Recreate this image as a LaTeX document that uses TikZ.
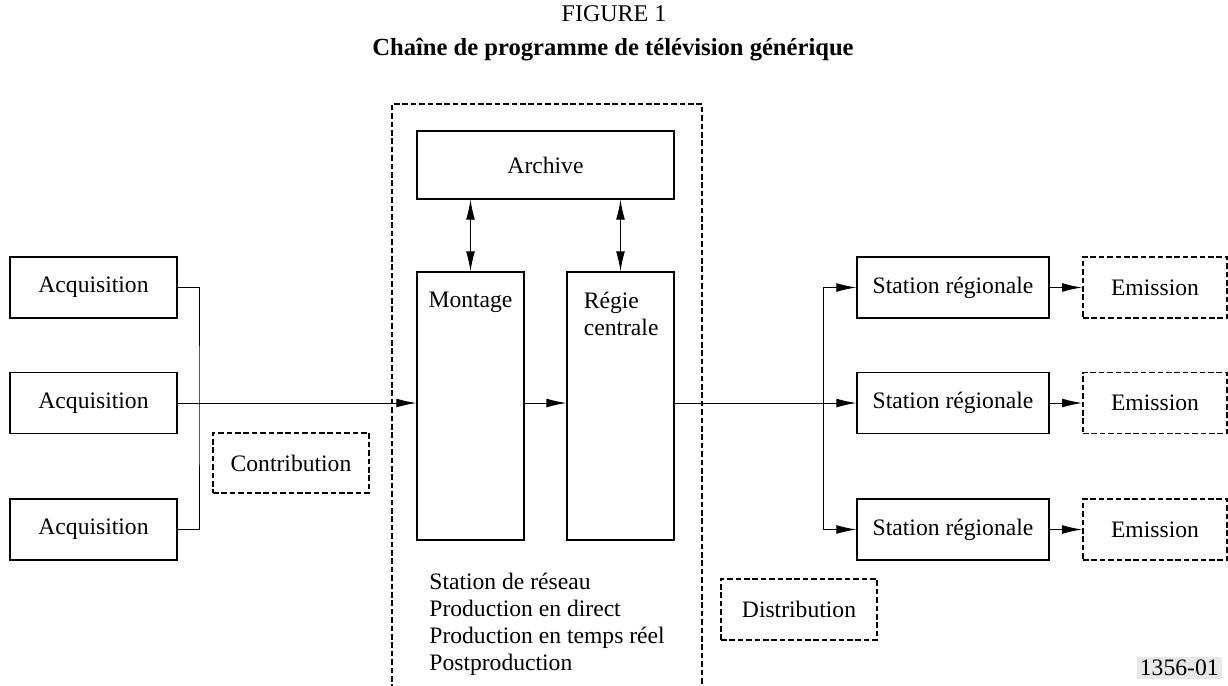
\documentclass[tikz,border=0pt]{standalone}
\usepackage{fontspec}
\setmainfont{Liberation Serif}
\usepackage{tikz}
\usetikzlibrary{arrows.meta,positioning,calc}
\tikzset{
  box/.style={draw=black,line width=0.6pt,rectangle,inner sep=0pt,
    font=\fontsize{11.8}{14}\selectfont,align=center,minimum height=30.5pt},
  dbox/.style={box,dashed,dash pattern=on 2.8pt off 1.4pt,line width=0.85pt},
  tall/.style={box,minimum width=53.5pt,minimum height=134pt},
  flow/.style={-{Latex[length=10pt,width=4.4pt]},line width=0.5pt},
  dflow/.style={{Latex[length=10pt,width=4.4pt]}-{Latex[length=10pt,width=4.4pt]},line width=0.5pt},
  wire/.style={line width=0.5pt},
  txt/.style={inner sep=0pt,font=\fontsize{11.8}{13.5}\selectfont,align=left},
}

\begin{document}
\begin{tikzpicture}[x=0.5pt,y=-0.5pt]
  \useasboundingbox (0,0) rectangle (1228,686);
  % titles
  \node[txt,font=\fontsize{12}{14}\selectfont](fig) at (614,14){FIGURE 1};
  \node[txt,font=\fontsize{12.3}{14}\selectfont\bfseries](ttl) at (613,50){Chaîne de programme de télévision générique};
  % network station frame
  \draw[dashed,dash pattern=on 2.8pt off 1.4pt,line width=0.85pt]
    (392,690) -- (392,104) -- (702,104) -- (702,690);
  % acquisition
  \node[box,minimum width=83.5pt](acq1) at (93.5,287.5){Acquisition};
  \node[box,minimum width=83.5pt](acq2) at (93.5,403){Acquisition};
  \node[box,minimum width=83.5pt](acq3) at (93.5,529.5){Acquisition};
  \node[dbox,minimum width=78pt,minimum height=30pt](contr) at (291,463){Contribution};
  % station de reseau
  \node[box,minimum width=128.5pt,minimum height=34pt](arch) at (545.5,165){Archive};
  \node[tall,label={[txt,anchor=north,yshift=-10pt]north:Montage}](mont) at (470.5,406){};
  \node[tall,label={[txt,anchor=north west,xshift=8.5pt,yshift=-10pt]north west:Régie\\centrale}](regie) at (620.5,406){};
  \node[txt,anchor=north west](roles) at (429,573){Station de réseau\\Production en direct\\Production en temps réel\\Postproduction};
  % distribution
  \node[box,minimum width=96pt](sta1) at (953,287.5){Station régionale};
  \node[box,minimum width=96pt](sta2) at (953,403){Station régionale};
  \node[box,minimum width=96pt](sta3) at (953,529.5){Station régionale};
  \node[dbox,minimum width=72pt](emi1) at (1155,287.5){Emission};
  \node[dbox,minimum width=72pt](emi2) at (1155,403){Emission};
  \node[dbox,minimum width=72pt](emi3) at (1155,529.5){Emission};
  \node[dbox,minimum width=78pt](distr) at (799,609.5){Distribution};
  \node[txt,anchor=east,fill=black!9,inner sep=1.5pt](ref) at (1222,668){1356-01};
  % connectors
  \coordinate (cbus) at (199,403);
  \coordinate (dbus) at (823,403);
  \draw[wire](acq1) -| (cbus) |- (acq3);
  \draw[flow](acq2.east) -- (acq2.east -| mont.west);
  \draw[flow](acq2.east -| mont.east) -- (acq2.east -| regie.west);
  \draw[flow](acq2.east -| regie.east) -- (sta2.west);
  \draw[flow](dbus) |- (sta1);
  \draw[flow](dbus) |- (sta3);
  \draw[dflow](arch.south -| mont.north) -- (mont.north);
  \draw[dflow](arch.south -| regie.north) -- (regie.north);
  \foreach \i in {1,2,3}
    \draw[flow](sta\i) -- (emi\i);
\end{tikzpicture}
\end{document}
